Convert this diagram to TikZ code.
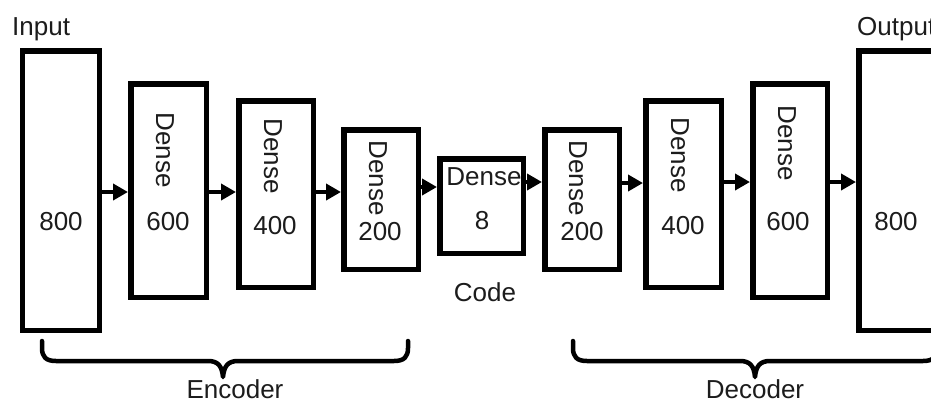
\documentclass[tikz,border=0pt]{standalone}
\usepackage{fontspec}
\setmainfont{Liberation Sans}
\usetikzlibrary{arrows.meta}
\definecolor{ink}{HTML}{1C1C1C}
\tikzset{
  layer/.style 2 args={draw=black, line width=5.5bp, fill=white, inner sep=0pt,
    minimum width=#1bp, minimum height=#2bp},
  txt/.style={text=ink, inner sep=0pt, font=\fontsize{26bp}{30bp}\selectfont},
  vtxt/.style={txt, rotate=-90},
  flow/.style={draw=black, line width=4.5bp,
    -{Triangle[length=15bp, width=16bp]}},
  bracket/.style={draw=black, line width=4.5bp, line cap=round, line join=round}
}
\begin{document}
\begin{tikzpicture}[x=1bp, y=-1bp]
\path[use as bounding box, fill=white] (0,0) rectangle (931,403);
\clip (0,0) rectangle (931,403);

% layers of the network
\node[layer={76.5}{279.5}] (in)   at (61,190.5)  {};
\node[layer={75.5}{213.5}] (e1)   at (168.5,190.5) {};
\node[layer={74.5}{186.5}] (e2)   at (276,194)   {};
\node[layer={74.5}{139.5}] (e3)   at (381,199.5) {};
\node[layer={83.5}{94.5}]  (code) at (481.5,206) {};
\node[layer={74.5}{139.5}] (d3)   at (582,199.5) {};
\node[layer={75.5}{186.5}] (d2)   at (683.5,194) {};
\node[layer={74.5}{213.5}] (d1)   at (790,190.5) {};
\node[layer={83.5}{279.5}] (out)  at (900.5,190.5) {};

% labels inside the layers
\node[txt] (in-n) at (61,222) {800};
\node[vtxt] (e1-t) at (165,150) {Dense};
\node[txt] (e1-n) at (168,222) {600};
\node[vtxt] (e2-t) at (273,156) {Dense};
\node[txt] (e2-n) at (275,226) {400};
\node[vtxt] (e3-t) at (378,178) {Dense};
\node[txt] (e3-n) at (380,232) {200};
\node[txt] (code-t) at (484,177) {Dense};
\node[txt] (code-n) at (482,221) {8};
\node[vtxt] (d3-t) at (578,178) {Dense};
\node[txt] (d3-n) at (582,232) {200};
\node[vtxt] (d2-t) at (680,155) {Dense};
\node[txt] (d2-n) at (683,226) {400};
\node[vtxt] (d1-t) at (787,143) {Dense};
\node[txt] (d1-n) at (788,222) {600};
\node[txt] (out-n) at (896,222) {800};

% captions
\node[txt, anchor=base west] (in-cap) at (12,35) {Input};
\node[txt, anchor=base west] (out-cap) at (857,35) {Output};
\node[txt] (code-cap) at (485,292) {Code};
\node[txt] (enc-cap) at (235,389) {Encoder};
\node[txt] (dec-cap) at (755,389) {Decoder};

% data flow
\draw[flow] (in.east |- 0,192) -- (e1.west |- 0,192);
\draw[flow] (e1.east |- 0,192) -- (e2.west |- 0,192);
\draw[flow] (e2.east |- 0,192) -- (e3.west |- 0,192);
\draw[flow] (e3.east |- 0,187) -- (code.west |- 0,187);
\draw[flow] (code.east |- 0,182) -- (d3.west |- 0,182);
\draw[flow] (d3.east |- 0,183) -- (d2.west |- 0,183);
\draw[flow] (d2.east |- 0,182) -- (d1.west |- 0,182);
\draw[flow] (d1.east |- 0,182) -- (out.west |- 0,182);

% braces grouping encoder and decoder
\path[bracket] (42,341) -- (42,348) .. controls (42,357) and (46,361) .. (56,361)
  -- (208,361) .. controls (218,361) and (222,366) .. (223,377)
  .. controls (224,366) and (228,361) .. (238,361)
  -- (394,361) .. controls (404,361) and (408,357) .. (408,348) -- (408,341);
\path[bracket] (573,341) -- (573,348) .. controls (573,357) and (577,361) .. (587,361)
  -- (740,361) .. controls (750,361) and (754,366) .. (755,377)
  .. controls (756,366) and (760,361) .. (770,361)
  -- (923,361) .. controls (933,361) and (937,357) .. (937,348) -- (937,341);
\end{tikzpicture}
\end{document}
